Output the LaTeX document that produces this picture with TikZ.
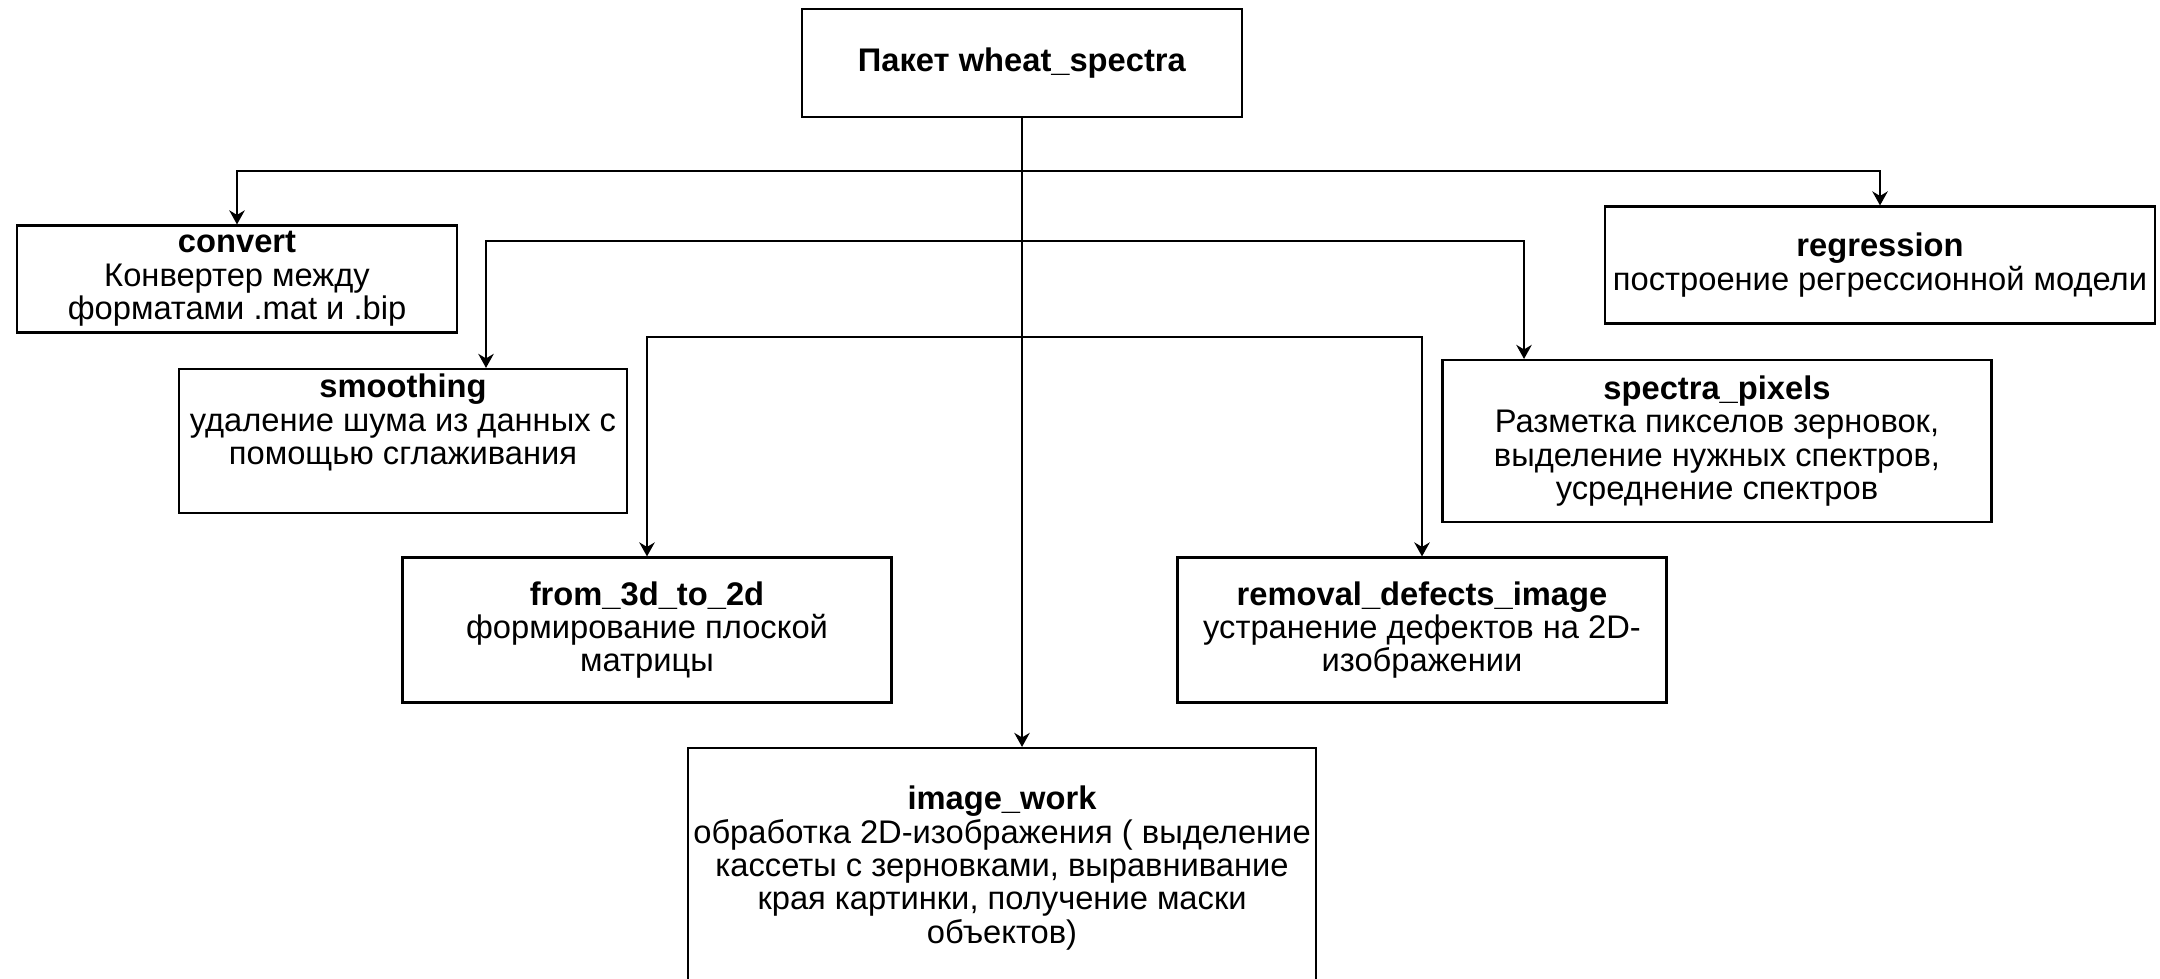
\documentclass[tikz,border=0pt]{standalone}
\usepackage{fontspec}
\setmainfont{Liberation Sans}
\usetikzlibrary{arrows.meta}

\begin{document}
\begin{tikzpicture}[
  x=1cm, y=1cm,
  every node/.style={inner sep=1pt},
  font=\fontsize{9.3pt}{9.5pt}\selectfont,
  box/.style={draw, line width=0.6pt, align=center},
  edge/.style={draw, line width=0.6pt},
  arrow/.style={draw, line width=0.6pt, -{Stealth[length=4pt, width=4.4pt]}}]

  % ---- page, 2160 x 979 px at 100 px per cm -------------------------------
  \useasboundingbox (0,0) rectangle (21.60,9.79);
  \clip (0,0) rectangle (21.60,9.79);

  % ---- the package and its modules ----------------------------------------
  \node[box, minimum width=4.40cm, minimum height=1.08cm] (pkg) at (10.22,9.16)
    {\textbf{Пакет wheat\_spectra}};
  \node[box, minimum width=4.40cm, minimum height=1.07cm] (convert) at (2.37,7.00)
    {\textbf{convert}\\Конвертер между\\форматами .mat и .bip};
  \node[box, minimum width=5.50cm, minimum height=1.17cm] (regression) at (18.80,7.14)
    {\textbf{regression}\\построение регрессионной модели};
  \node[box, minimum width=4.48cm, minimum height=1.44cm] (smoothing) at (4.03,5.38)
    {\textbf{smoothing}\\удаление шума из данных с\\помощью сглаживания\\\strut};
  \node[box, minimum width=5.49cm, minimum height=1.62cm] (spectra) at (17.17,5.38)
    {\textbf{spectra\_pixels}\\Разметка пикселов зерновок,\\выделение нужных спектров,\\усреднение спектров};
  \node[box, minimum width=4.89cm, minimum height=1.45cm] (flat) at (6.47,3.49)
    {\textbf{from\_3d\_to\_2d}\\формирование плоской\\матрицы};
  \node[box, minimum width=4.89cm, minimum height=1.45cm] (removal) at (14.22,3.49)
    {\textbf{removal\_defects\_image}\\устранение дефектов на 2D-\\изображении};
  % runs off the bottom of the page, as in the original
  \node[box, minimum width=6.28cm, minimum height=2.40cm] (imagework) at (10.02,1.11)
    {\textbf{image\_work}\\обработка 2D-изображения ( выделение\\кассеты с зерновками, выравнивание\\края картинки, получение маски\\объектов)};

  % ---- the three buses off the trunk --------------------------------------
  \coordinate (busA) at (10.22,8.08);
  \coordinate (busB) at (10.22,7.38);
  \coordinate (busC) at (10.22,6.42);

  \draw[arrow] (pkg.south) -- (pkg.south |- imagework.north);

  \draw[arrow] (busA) -| (convert.north);
  \draw[arrow] (busA) -| (regression.north);

  \draw[arrow] (busB) -| ([xshift=0.83cm]smoothing.north);
  \draw[arrow] (busB) -| ([xshift=-1.93cm]spectra.north);

  \draw[arrow] (busC) -| (flat.north);
  \draw[arrow] (busC) -| (removal.north);
\end{tikzpicture}
\end{document}
